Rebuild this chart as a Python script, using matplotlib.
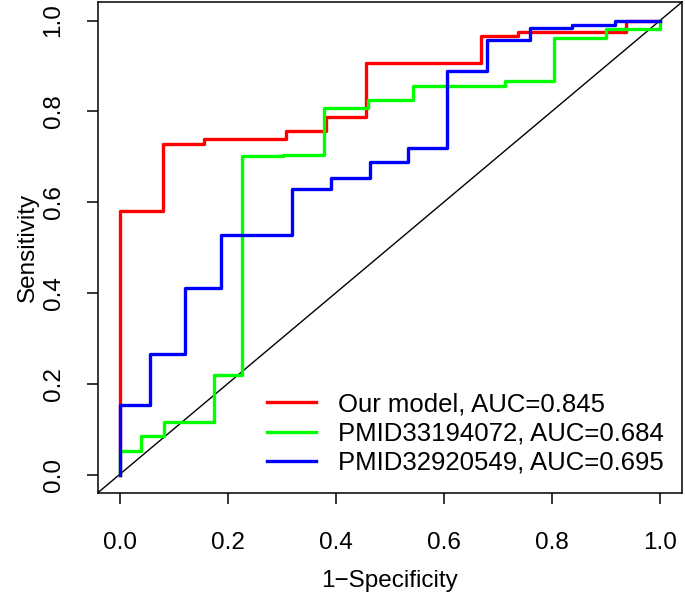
"""
ROC comparison: our model vs two published signatures
"""

import matplotlib
matplotlib.use("Agg")
import matplotlib.pyplot as plt

plt.rcParams['font.family'] = ['Liberation Sans', 'DejaVu Sans']

# ROC corner points (1-specificity, sensitivity)
ours_fpr = [0, 0, 0.081, 0.156, 0.308, 0.382, 0.456, 0.668, 0.738, 0.938, 1.0]
ours_tpr = [0, 0.581, 0.729, 0.738, 0.756, 0.787, 0.906, 0.965, 0.974, 1.0, 1.0]

pmid331_fpr = [0, 0, 0.039, 0.082, 0.174, 0.226, 0.302, 0.379, 0.460, 0.543, 0.714, 0.804, 0.900, 1.0]
pmid331_tpr = [0, 0.051, 0.084, 0.115, 0.219, 0.701, 0.704, 0.807, 0.825, 0.855, 0.866, 0.962, 0.982, 1.0]

pmid329_fpr = [0, 0, 0.057, 0.121, 0.187, 0.320, 0.392, 0.463, 0.534, 0.606, 0.680, 0.759, 0.837, 0.917, 1.0]
pmid329_tpr = [0, 0.153, 0.266, 0.411, 0.527, 0.629, 0.654, 0.688, 0.719, 0.888, 0.957, 0.984, 0.990, 1.0, 1.0]

labels = ["Our model, AUC=0.845", "PMID33194072, AUC=0.684", "PMID32920549, AUC=0.695"]
colors = ["#ff0000", "#00ff00", "#0000ff"]
ticks = [0.0, 0.2, 0.4, 0.6, 0.8, 1.0]
tick_labels = ["0.0", "0.2", "0.4", "0.6", "0.8", "1.0"]

fig = plt.figure(figsize=(6.85, 5.95), dpi=100)
ax = fig.add_axes([0.143, 0.172, 0.852, 0.824])

curves = [(ours_fpr, ours_tpr), (pmid331_fpr, pmid331_tpr), (pmid329_fpr, pmid329_tpr)]
for (fpr, tpr), lab, col in zip(curves, labels, colors):
    ax.plot(fpr, tpr, drawstyle='steps-post', color=col, lw=2.4, label=lab)

# chance line
ax.axline((0, 0), (1, 1), color='black', lw=1.0, zorder=1)

ax.set_xlim(-0.04, 1.04)
ax.set_ylim(-0.04, 1.04)
ax.set_xticks(ticks)
ax.set_xticklabels(tick_labels)
ax.set_yticks(ticks)
ax.set_yticklabels(tick_labels, rotation=90, va='center')
ax.tick_params(direction='out', length=8, width=1.1, labelsize=17.5, pad=16)
ax.tick_params(axis='x', pad=20)
for sp in ax.spines.values():
    sp.set_linewidth(1.1)

ax.set_xlabel("1\u2212Specificity", fontsize=17.5, labelpad=12)
ax.set_ylabel("Sensitivity", fontsize=17.5, labelpad=3)

ax.legend(loc='lower right', frameon=False, fontsize=18.5, handlelength=1.9,
          handletextpad=0.85, labelspacing=0.2, borderaxespad=0.3,
          bbox_to_anchor=(1.0, 0.0))

fig.savefig("out.png", dpi=100)
